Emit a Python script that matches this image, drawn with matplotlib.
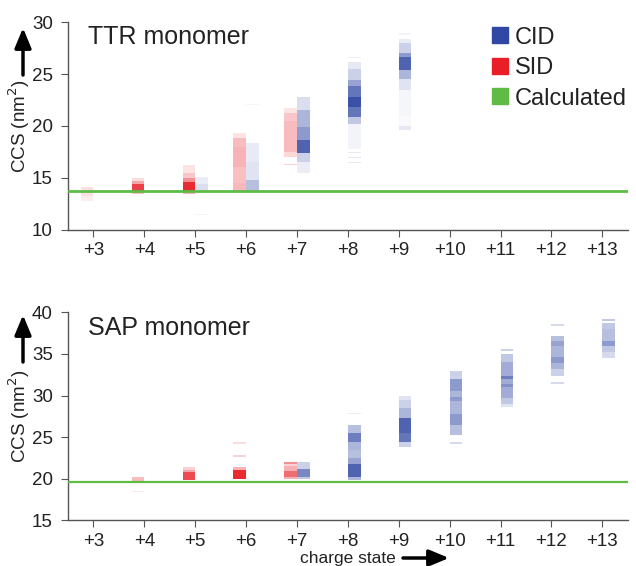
import matplotlib
matplotlib.use("Agg")
import matplotlib.pyplot as plt
from matplotlib.lines import Line2D
from matplotlib.patches import FancyArrowPatch
import numpy as np

plt.rcParams['font.family'] = ['Liberation Sans', 'DejaVu Sans']

charges = list(range(3, 14))
tick_labels = ['+%d' % c for c in charges]

# calculated CCS (nm^2)
ttr_calc = 13.7
sap_calc = 19.6

# bands per charge state: (ccs low, ccs high, relative intensity)
ttr_sid = {
    3: [(12.8, 13.3, 0.08), (13.3, 14.1, 0.14)],
    4: [(13.4, 13.6, 0.3), (13.6, 14.4, 0.85), (14.4, 14.7, 0.4), (14.7, 15.0, 0.15)],
    5: [(13.4, 13.7, 0.35), (13.7, 14.6, 0.95), (14.6, 15.0, 0.5), (15.0, 15.5, 0.25),
        (15.5, 16.2, 0.12)],
    6: [(13.7, 14.5, 0.32), (14.5, 16.0, 0.28), (16.0, 18.0, 0.34), (18.0, 18.8, 0.3),
        (18.8, 19.3, 0.12)],
    7: [(16.2, 16.35, 0.2), (17.0, 17.5, 0.18), (17.5, 20.5, 0.3), (20.5, 21.2, 0.25),
        (21.2, 21.7, 0.12)],
}
ttr_cid = {
    5: [(11.4, 11.5, 0.06), (13.8, 14.4, 0.18), (14.4, 15.1, 0.1)],
    6: [(13.7, 14.8, 0.35), (14.8, 16.5, 0.15), (16.5, 18.4, 0.11), (22.0, 22.1, 0.05)],
    7: [(15.5, 16.5, 0.1), (16.5, 17.4, 0.25), (17.4, 18.6, 0.85), (18.6, 19.9, 0.55),
        (19.9, 21.5, 0.4), (21.5, 22.8, 0.18)],
    8: [(16.4, 16.5, 0.12), (16.9, 17.0, 0.12), (17.4, 17.5, 0.12), (17.8, 20.2, 0.06),
        (20.2, 20.9, 0.3), (20.9, 21.8, 0.75), (21.8, 22.8, 0.95), (22.8, 23.8, 0.75),
        (23.8, 24.4, 0.5), (24.4, 25.5, 0.25), (25.5, 26.2, 0.12), (26.5, 26.6, 0.08)],
    9: [(19.6, 20.0, 0.12), (20.0, 21.0, 0.03), (21.0, 23.5, 0.05), (23.5, 24.5, 0.15),
        (24.5, 25.4, 0.4), (25.4, 26.6, 0.85), (26.6, 27.0, 0.55), (27.0, 28.0, 0.25),
        (28.0, 28.4, 0.1), (28.8, 28.9, 0.06)],
}
sap_sid = {
    4: [(18.4, 18.5, 0.1), (19.6, 20.2, 0.3)],
    5: [(19.8, 20.8, 0.8), (20.8, 21.0, 0.4), (21.0, 21.4, 0.2)],
    6: [(19.9, 21.0, 0.95), (21.0, 21.4, 0.35), (22.6, 22.8, 0.2), (24.2, 24.35, 0.15)],
    7: [(19.9, 20.2, 0.35), (20.2, 20.9, 0.65), (20.9, 21.5, 0.35), (21.5, 21.8, 0.2),
        (21.8, 22.0, 0.5)],
}
sap_cid = {
    7: [(19.9, 20.2, 0.3), (20.2, 21.2, 0.65), (21.2, 22.0, 0.25)],
    8: [(19.8, 20.2, 0.4), (20.2, 21.8, 0.85), (21.8, 22.5, 0.5), (22.5, 23.4, 0.35),
        (23.4, 24.4, 0.4), (24.4, 25.5, 0.7), (25.5, 26.4, 0.35), (27.8, 27.9, 0.1)],
    9: [(23.8, 24.4, 0.25), (24.4, 25.5, 0.75), (25.5, 27.3, 0.85), (27.3, 28.5, 0.4),
        (28.5, 29.5, 0.25), (29.5, 30.0, 0.15)],
    10: [(24.2, 24.35, 0.2), (25.2, 26.5, 0.35), (26.5, 27.8, 0.55), (27.8, 29.3, 0.4),
         (29.3, 29.8, 0.55), (29.8, 30.5, 0.4), (30.5, 32.0, 0.55), (32.0, 33.0, 0.25)],
    11: [(28.6, 29.0, 0.15), (29.0, 29.7, 0.3), (29.7, 31.0, 0.45), (31.0, 31.4, 0.6),
         (31.4, 32.0, 0.45), (32.0, 32.4, 0.7), (32.4, 34.0, 0.45), (34.0, 35.0, 0.3),
         (35.4, 35.6, 0.25)],
    12: [(31.4, 31.6, 0.2), (32.4, 33.2, 0.25), (33.2, 33.9, 0.4), (33.9, 34.6, 0.55),
         (34.6, 36.0, 0.4), (36.0, 36.6, 0.5), (36.6, 37.2, 0.35), (38.4, 38.6, 0.2)],
    13: [(34.5, 35.2, 0.2), (35.2, 36.0, 0.3), (36.0, 36.6, 0.55), (36.6, 38.0, 0.35),
         (38.0, 38.7, 0.3), (39.0, 39.2, 0.3)],
}

CID_COL = np.array([0.19, 0.28, 0.64])
SID_COL = np.array([0.91, 0.12, 0.15])
CALC_COL = '#5dbb46'
TXT = '#222222'
STRIP_W = 0.25


def shade(base, i):
    return tuple(1 - i * (1 - base))


def draw_strips(ax, data, base, side):
    for c, bands in data.items():
        for lo, hi, inten in bands:
            x0 = c - STRIP_W if side < 0 else c
            ax.bar(x0, hi - lo, bottom=lo, width=STRIP_W, align='edge',
                   color=shade(base, inten), linewidth=0, zorder=2)


def style(ax, ylim, yticks, title):
    ax.set_xlim(2.5, 13.5)
    ax.set_ylim(*ylim)
    ax.set_yticks(yticks)
    ax.set_xticks(charges)
    ax.set_xticklabels(tick_labels)
    for s in ['top', 'right']:
        ax.spines[s].set_visible(False)
    for s in ['left', 'bottom']:
        ax.spines[s].set_color('#555555')
        ax.spines[s].set_linewidth(1.0)
    ax.tick_params(direction='out', length=5, color='#555555', labelsize=13.5,
                   labelcolor=TXT)
    ax.tick_params(axis='x', pad=4)
    ax.tick_params(axis='y', pad=6)
    ax.text(0.036, 0.985, title, transform=ax.transAxes, fontsize=18, va='top',
            color=TXT)
    ax.set_ylabel('CCS (nm$^2$)', fontsize=13.5, color=TXT)
    ax.yaxis.set_label_coords(-0.064, 0.5)


def arrow(p0, p1):
    fig.add_artist(FancyArrowPatch(
        (p0[0] / 636, 1 - p0[1] / 566), (p1[0] / 636, 1 - p1[1] / 566),
        transform=fig.transFigure, arrowstyle='-|>,head_width=5,head_length=12',
        color='black', lw=2.5, shrinkA=0, shrinkB=0, mutation_scale=1))


fig = plt.figure(figsize=(6.36, 5.66), dpi=100)
ax1 = fig.add_axes([0.107, 0.594, 0.880, 0.367])
ax2 = fig.add_axes([0.107, 0.081, 0.880, 0.367])

draw_strips(ax1, ttr_sid, SID_COL, -1)
draw_strips(ax1, ttr_cid, CID_COL, 1)
ax1.axhline(ttr_calc, color=CALC_COL, lw=2, zorder=3)
style(ax1, (10, 30), [10, 15, 20, 25, 30], 'TTR monomer')

draw_strips(ax2, sap_sid, SID_COL, -1)
draw_strips(ax2, sap_cid, CID_COL, 1)
ax2.axhline(sap_calc, color=CALC_COL, lw=1.6, zorder=3)
style(ax2, (15, 40), [15, 20, 25, 30, 35, 40], 'SAP monomer')

handles = [Line2D([], [], ls='none', marker='s', ms=11.5, color=shade(CID_COL, 1.0)),
           Line2D([], [], ls='none', marker='s', ms=11.5, color=shade(SID_COL, 1.0)),
           Line2D([], [], ls='none', marker='s', ms=11.5, color=CALC_COL)]
fig.legend(handles, ['CID', 'SID', 'Calculated'], loc='upper left',
           bbox_to_anchor=(0.773, 0.953), frameon=False, fontsize=17,
           handlelength=0.7, handletextpad=0.3, labelspacing=0.36,
           labelcolor=TXT, borderpad=0, borderaxespad=0)

# axis direction arrows
arrow((23, 75), (23, 28))
arrow((23, 362), (23, 315))

fig.text(348 / 636, 1 - 558 / 566, 'charge state', ha='center', va='center',
         fontsize=12.5, color=TXT)
arrow((403, 558), (449, 558))

fig.savefig('out.png', dpi=100)
